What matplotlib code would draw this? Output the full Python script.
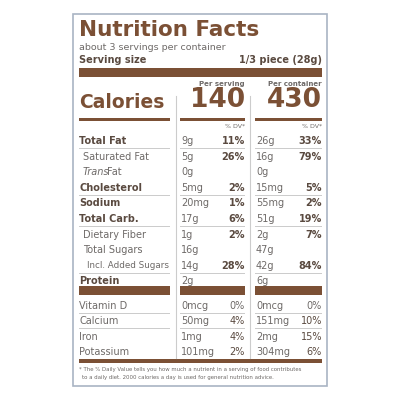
import matplotlib.pyplot as plt
from matplotlib.patches import Rectangle

brown = "#7b5035"
grey = "#6e6a68"
dark = "#5a4a40"

nutrients = ["Total Fat", "Saturated Fat", "Trans Fat", "Cholesterol", "Sodium",
             "Total Carb.", "Dietary Fiber", "Total Sugars", "Incl. Added Sugars", "Protein"]
bold = [True, False, False, True, True, True, False, False, False, True]
indent = [0, 1, 1, 0, 0, 0, 1, 1, 2, 0]
serv_amt = ["9g", "5g", "0g", "5mg", "20mg", "17g", "1g", "16g", "14g", "2g"]
serv_dv = ["11%", "26%", "", "2%", "1%", "6%", "2%", "", "28%", ""]
cont_amt = ["26g", "16g", "0g", "15mg", "55mg", "51g", "2g", "47g", "42g", "6g"]
cont_dv = ["33%", "79%", "", "5%", "2%", "19%", "7%", "", "84%", ""]

vitamins = ["Vitamin D", "Calcium", "Iron", "Potassium"]
vit_serv_amt = ["0mcg", "50mg", "1mg", "101mg"]
vit_serv_dv = ["0%", "4%", "4%", "2%"]
vit_cont_amt = ["0mcg", "151mg", "2mg", "304mg"]
vit_cont_dv = ["0%", "10%", "15%", "6%"]

fig = plt.figure(figsize=(4, 4), dpi=100)
ax = fig.add_axes([0, 0, 1, 1])
ax.set_xlim(0, 400)
ax.set_ylim(400, 0)
ax.axis("off")

ax.add_patch(Rectangle((73, 14), 254, 372, fill=False, ec="#a9b4c4", lw=1.2))

def hbar(x0, x1, y, h, c=brown):
    ax.add_patch(Rectangle((x0, y - h / 2), x1 - x0, h, color=c, lw=0))

ax.text(79, 30, "Nutrition Facts", fontsize=15.5, fontweight="bold", color=brown, va="center")
hbar(79, 322, 41, 0.6, "#bbbbbb")
ax.text(79, 48, "about 3 servings per container", fontsize=6.8, color=grey, va="center")
ax.text(79, 60, "Serving size", fontsize=7, fontweight="bold", color=dark, va="center")
ax.text(322, 60, "1/3 piece (28g)", fontsize=7, fontweight="bold", color=dark, va="center", ha="right")
hbar(79, 322, 72, 9)

ax.text(245, 84, "Per serving", fontsize=5, fontweight="bold", color=grey, ha="right", va="center")
ax.text(322, 84, "Per container", fontsize=5, fontweight="bold", color=grey, ha="right", va="center")
ax.text(79, 103, "Calories", fontsize=13.5, fontweight="bold", color=brown, va="center")
ax.text(245, 100, "140", fontsize=19, fontweight="bold", color=brown, ha="right", va="center")
ax.text(322, 100, "430", fontsize=19, fontweight="bold", color=brown, ha="right", va="center")
for x0, x1 in [(79, 170), (180, 245), (255, 322)]:
    hbar(x0, x1, 119, 3)
ax.plot([176, 176], [96, 358], color="#cccccc", lw=0.8)
ax.plot([250, 250], [96, 358], color="#cccccc", lw=0.8)
ax.text(245, 127, "% DV*", fontsize=4.5, color=grey, ha="right", va="center")
ax.text(322, 127, "% DV*", fontsize=4.5, color=grey, ha="right", va="center")

def row(y, label, b, ind, a1, d1, a2, d2, dvbold=True):
    hbar(79, 170, y - 8, 0.6, "#cccccc")
    hbar(180, 245, y - 8, 0.6, "#cccccc")
    hbar(255, 322, y - 8, 0.6, "#cccccc")
    fs = 6.3 if len(label) > 15 else 7
    if label == "Trans Fat":
        ax.text(79 + 4 * ind, y, "Trans", fontsize=7, style="italic", color=grey, va="center")
        ax.text(79 + 4 * ind + 24, y, "Fat", fontsize=7, color=grey, va="center")
    else:
        ax.text(79 + 4 * ind, y, label, fontsize=fs, fontweight="bold" if b else "normal",
                color=dark if b else grey, va="center")
    w = "bold" if dvbold else "normal"
    ax.text(181, y, a1, fontsize=7, color=grey, va="center")
    ax.text(245, y, d1, fontsize=7, fontweight=w, color=dark, va="center", ha="right")
    ax.text(256, y, a2, fontsize=7, color=grey, va="center")
    ax.text(322, y, d2, fontsize=7, fontweight=w, color=dark, va="center", ha="right")

for i in range(len(nutrients)):
    row(141 + i * 15.6, nutrients[i], bold[i], indent[i], serv_amt[i], serv_dv[i], cont_amt[i], cont_dv[i])

for x0, x1 in [(79, 170), (180, 245), (255, 322)]:
    hbar(x0, x1, 290.5, 9)

for i in range(len(vitamins)):
    y = 306 + i * 15.3
    if i > 0:
        row(y, vitamins[i], False, 0, vit_serv_amt[i], vit_serv_dv[i], vit_cont_amt[i], vit_cont_dv[i], False)
    else:
        ax.text(79, y, vitamins[i], fontsize=7, color=grey, va="center")
        ax.text(181, y, vit_serv_amt[i], fontsize=7, color=grey, va="center")
        ax.text(245, y, vit_serv_dv[i], fontsize=7, color=grey, va="center", ha="right")
        ax.text(256, y, vit_cont_amt[i], fontsize=7, color=grey, va="center")
        ax.text(322, y, vit_cont_dv[i], fontsize=7, color=grey, va="center", ha="right")

hbar(79, 322, 361, 3.5)
ax.text(79, 369, "* The % Daily Value tells you how much a nutrient in a serving of food contributes",
        fontsize=3.9, color=grey, va="center")
ax.text(82, 377, "to a daily diet. 2000 calories a day is used for general nutrition advice.",
        fontsize=3.9, color=grey, va="center")

fig.savefig("out.png", dpi=100, facecolor="white")
